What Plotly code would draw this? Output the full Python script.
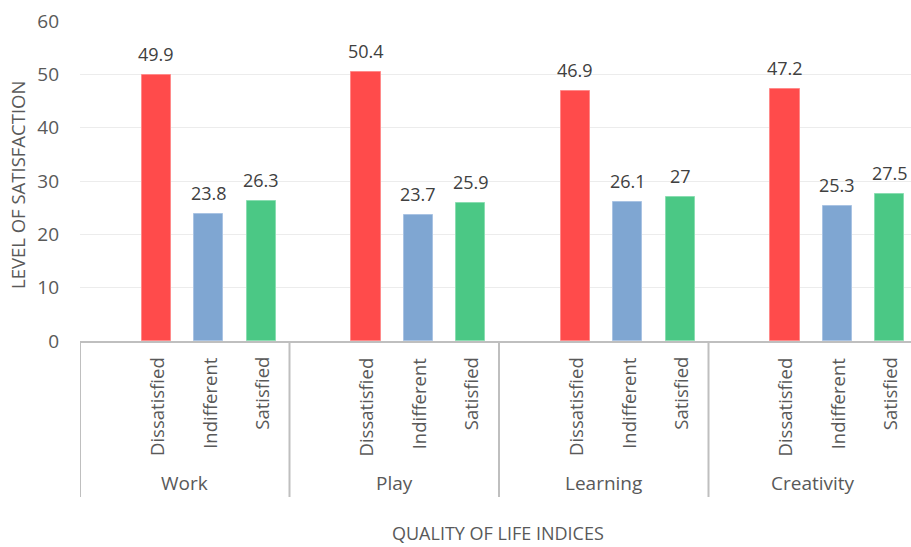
import plotly.graph_objects as go

groups = ["Work", "Play", "Learning", "Creativity"]
levels = ["Dissatisfied", "Indifferent", "Satisfied"]
dissatisfied = [49.9, 50.4, 46.9, 47.2]
indifferent = [23.8, 23.7, 26.1, 25.3]
satisfied = [26.3, 25.9, 27.0, 27.5]
y_ticks = [0, 10, 20, 30, 40, 50, 60]

series = [dissatisfied, indifferent, satisfied]
colors = ["#FF4B4B", "#7FA6D2", "#4BC885"]
edge = ["#FF8A8A", "#A9C3E3", "#8ADDB1"]

SLOTS = 4          # each group has one empty slot followed by three bars
OFFSET = 1.46
FONT = "Open Sans"
GREY = "#595959"

W, H = 911, 547
L, T = 80, 21
PLOT_H = 320
PLOT_W = W - L
px_per_unit = 52.375

fig = go.Figure()
annotations = []
for s, (name, vals) in enumerate(zip(levels, series)):
    xs = [SLOTS * g + OFFSET + s for g in range(len(groups))]
    fig.add_trace(go.Bar(
        x=xs, y=vals, name=name, width=0.555,
        marker=dict(color=colors[s], line=dict(color=edge[s], width=1)),
        showlegend=False, hoverinfo="skip",
    ))
    for x, v in zip(xs, vals):
        annotations.append(dict(
            x=x, y=v, xref="x", yref="y", text=f"{v:g}", showarrow=False,
            yanchor="bottom", xanchor="center", yshift=7,
            font=dict(family=FONT, size=18, color="#404040"),
        ))
        annotations.append(dict(
            x=x, y=-14 / PLOT_H, xref="x", yref="paper", text=name,
            showarrow=False, textangle=-90, yanchor="top", xanchor="center",
            font=dict(family=FONT, size=18.5, color=GREY),
        ))

shapes = []
for g, gname in enumerate(groups):
    shapes.append(dict(
        type="line", xref="x", yref="paper",
        x0=SLOTS * g, x1=SLOTS * g, y0=0, y1=-156 / PLOT_H,
        line=dict(color="#BFBFBF", width=2),
    ))
    annotations.append(dict(
        x=SLOTS * g + SLOTS / 2, y=-(483 - 341) / PLOT_H, xref="x", yref="paper",
        text=gname, showarrow=False, yanchor="middle", xanchor="center",
        font=dict(family=FONT, size=19, color=GREY),
    ))

annotations.append(dict(
    x=(17 - L) / PLOT_W, y=(341 - 185) / PLOT_H, xref="paper", yref="paper",
    text="LEVEL OF SATISFACTION", showarrow=False, textangle=-90,
    xanchor="center", yanchor="middle",
    font=dict(family=FONT, size=18.5, color=GREY),
))
annotations.append(dict(
    x=(498 - L) / PLOT_W, y=(341 - 533) / PLOT_H, xref="paper", yref="paper",
    text="QUALITY OF LIFE INDICES", showarrow=False,
    xanchor="center", yanchor="middle",
    font=dict(family=FONT, size=18, color=GREY),
))

fig.update_layout(
    width=W, height=H,
    margin=dict(l=L, r=0, t=T, b=H - T - PLOT_H, pad=0),
    plot_bgcolor="white", paper_bgcolor="white",
    annotations=annotations, shapes=shapes,
    bargap=0,
    xaxis=dict(
        range=[0, PLOT_W / px_per_unit], showticklabels=False, showgrid=False,
        zeroline=False, showline=True, linecolor="#BFBFBF", linewidth=2,
        ticks="", fixedrange=True,
    ),
    yaxis=dict(
        range=[0, 60], tickvals=y_ticks, showgrid=True, gridcolor="#ECECEC",
        gridwidth=1, zeroline=False, showline=False, ticks="",
        tickfont=dict(family=FONT, size=19, color=GREY),
        ticklabelstandoff=20,
    ),
)

fig.write_html(
    "out.html",
    config={"displayModeBar": False},
    post_script="document.body.style.margin='0';document.body.style.overflow='hidden';",
)
